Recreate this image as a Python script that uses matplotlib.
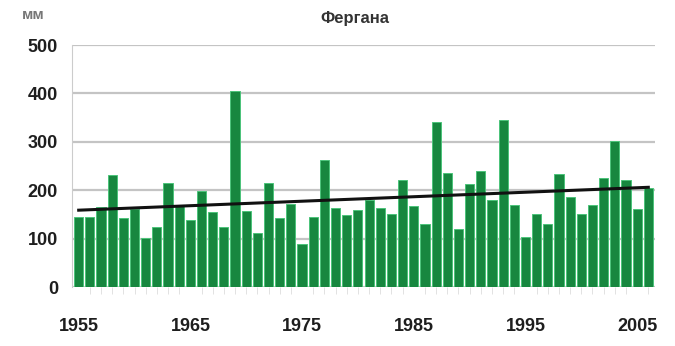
import numpy as np
import matplotlib.pyplot as plt

# annual precipitation, Fergana station
years = list(range(1955, 2007))
precip = [144, 144, 166, 232, 142, 162, 101, 125, 214, 168,
          138, 199, 154, 125, 405, 158, 111, 215, 143, 172,
          88, 144, 262, 164, 148, 160, 179, 164, 151, 221,
          168, 131, 340, 236, 119, 213, 240, 179, 345, 170,
          103, 151, 131, 234, 186, 151, 170, 226, 302, 221,
          162, 205]
tick_years = [1955, 1965, 1975, 1985, 1995, 2005]
y_ticks = [0, 100, 200, 300, 400, 500]

plt.rcParams['font.family'] = ['Liberation Sans', 'DejaVu Sans']

fig = plt.figure(figsize=(6.75, 3.46), dpi=100)
ax = fig.add_axes([72 / 675, 1 - 287 / 346, 583 / 675, 242 / 346])

ax.bar(years, precip, width=0.82, color='#17873f', edgecolor='#4cc47a',
       linewidth=0.7, zorder=3)

# linear trend
k, b = np.polyfit(years, precip, 1)
xs = np.array([years[0], years[-1]])
ax.plot(xs, k * xs + b, color='#111111', linewidth=2.2, zorder=4)

ax.set_xlim(1954.4, 2006.6)
ax.set_ylim(0, 500)
ax.set_yticks(y_ticks)
ax.set_xticks(tick_years)
ax.set_xticks(years, minor=True)
ax.grid(axis='y', color='#c4c4c4', linewidth=1.6, zorder=0)

for s in ['top', 'right', 'bottom']:
    ax.spines[s].set_visible(False)
ax.spines['left'].set_color('#cccccc')

ax.tick_params(axis='y', length=0, pad=10, labelsize=13, labelcolor='#1e1e1e')
ax.tick_params(axis='x', which='major', length=0, pad=22, labelsize=13,
               labelcolor='#1e1e1e')
ax.tick_params(axis='x', which='minor', length=5, color='#dddddd')
for lab in ax.get_xticklabels() + ax.get_yticklabels():
    lab.set_fontweight('bold')

fig.text(355 / 675, 1 - 18 / 346, 'Фергана', ha='center', va='center',
         fontsize=12, fontweight='bold', color='#333333')
fig.text(33 / 675, 1 - 15 / 346, 'мм', ha='center', va='center',
         fontsize=11, fontweight='bold', color='#777777')

fig.savefig('out.png', dpi=100)
